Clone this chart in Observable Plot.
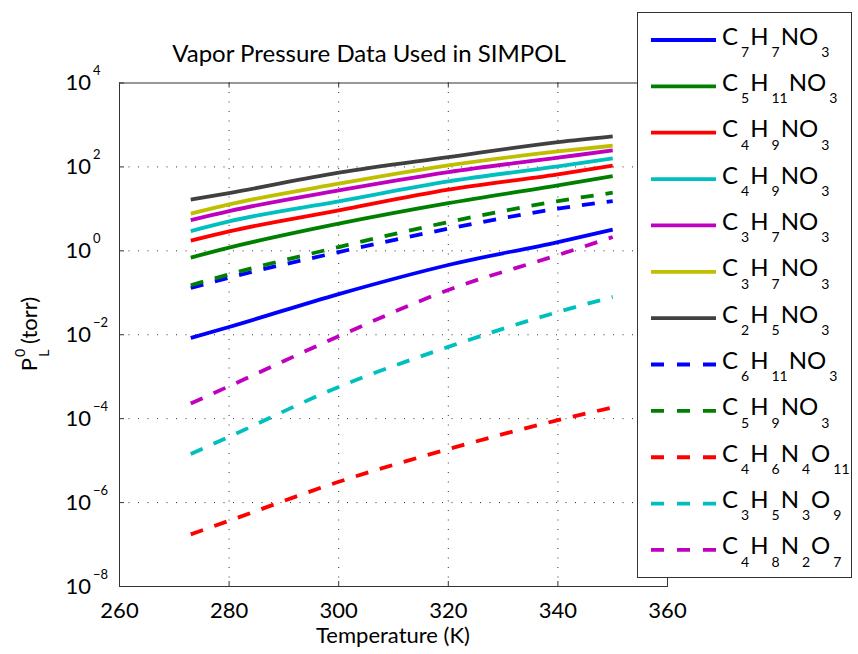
<!DOCTYPE html>
<html>
<head>
<meta charset="utf-8">
<script src="https://cdn.jsdelivr.net/npm/d3@7"></script>
<script src="https://cdn.jsdelivr.net/npm/@observablehq/plot@0.6"></script>
<style>
  body { margin: 0; background: #fff; }
  #wrap { position: relative; width: 858px; height: 654px; overflow: hidden; background: #fff; }
  #wrap svg { position: absolute; left: 0; top: 0; }
</style>
</head>
<body>
<div id="wrap"></div>
<script>
// ---------- data ----------
const temperature = [273, 280, 300, 320, 340, 350];               // K

const p_C7H7NO3      = [8.39e-3, 1.53e-2, 9.33e-2, 0.460, 1.62, 3.20];
const p_C5H11NO3     = [0.689, 1.19, 4.44, 13.7, 36.3, 60.4];
const p_C4H9NO3_a    = [1.75, 2.91, 9.20, 28.6, 66.2, 107];
const p_C4H9NO3_b    = [2.96, 5.04, 15.1, 45.2, 103, 159];
const p_C3H7NO3_a    = [5.41, 8.87, 27.5, 75.2, 166, 247];
const p_C3H7NO3_b    = [7.69, 12.8, 39.8, 109, 234, 320];
const p_C2H5NO3      = [16.6, 23.8, 72.8, 171, 389, 532];
const p_C6H11NO3     = [0.130, 0.229, 0.933, 3.37, 10.1, 15.3];
const p_C5H9NO3      = [0.151, 0.275, 1.23, 4.85, 15.3, 24.3];
const p_C4H6N4O11    = [1.75e-7, 3.69e-7, 3.13e-6, 1.88e-5, 9.20e-5, 1.85e-4];
const p_C3H5N3O9     = [1.43e-5, 3.69e-5, 5.71e-4, 5.13e-3, 3.49e-2, 7.96e-2];
const p_C4H8N2O7     = [2.30e-4, 5.94e-4, 9.20e-3, 0.117, 0.794, 2.13];

const seriesNames  = ["C_7H_7NO_3", "C_5H_11NO_3", "C_4H_9NO_3", "C_4H_9NO_3", "C_3H_7NO_3", "C_3H_7NO_3",
                      "C_2H_5NO_3", "C_6H_11NO_3", "C_5H_9NO_3", "C_4H_6N_4O_11", "C_3H_5N_3O_9", "C_4H_8N_2O_7"];
const seriesValues = [p_C7H7NO3, p_C5H11NO3, p_C4H9NO3_a, p_C4H9NO3_b, p_C3H7NO3_a, p_C3H7NO3_b,
                      p_C2H5NO3, p_C6H11NO3, p_C5H9NO3, p_C4H6N4O11, p_C3H5N3O9, p_C4H8N2O7];
const seriesColors = ["#0000ff", "#008000", "#ff0000", "#00bfbf", "#bf00bf", "#bfbf00",
                      "#404040", "#0000ff", "#008000", "#ff0000", "#00bfbf", "#bf00bf"];
const seriesDashed = [false, false, false, false, false, false, false, true, true, true, true, true];

const xTicks = [260, 280, 300, 320, 340, 360];
const yTicks = [1e-8, 1e-6, 1e-4, 1e-2, 1e0, 1e2, 1e4];

const titleText = "Vapor Pressure Data Used in SIMPOL";
const xLabelText = "Temperature (K)";

// ---------- chart ----------
const FONT = "Lato, 'Open Sans', sans-serif";
const W = 858, H = 654;
const mL = 119, mR = W - 667, mT = 82.5, mB = H - 586;
const innerW = W - mL - mR, innerH = H - mT - mB;
const DASH = "13,12";
const LW = 3.8;

const rows = seriesNames.map((name, i) => ({name, i}));
const lineMarks = rows.map(({name, i}) => Plot.line(
  temperature.map((t, j) => ({T: t, P: seriesValues[i][j]})),
  {x: "T", y: "P", stroke: seriesColors[i], strokeWidth: LW,
   strokeDasharray: seriesDashed[i] ? DASH : null, curve: "monotone-x", strokeLinecap: "butt"}
));

const chart = Plot.plot({
  width: W, height: H,
  marginLeft: mL, marginRight: mR, marginTop: mT, marginBottom: mB,
  style: {fontFamily: FONT, fontSize: "22px", color: "#000", background: "transparent", overflow: "visible"},
  x: {domain: [260, 360], label: null},
  y: {type: "log", domain: [1e-8, 1e4], label: null},
  marks: [
    Plot.gridX(xTicks.slice(1, -1), {stroke: "#333", strokeOpacity: 1, strokeDasharray: "1,8.5"}),
    Plot.gridY(yTicks.slice(1, -1), {stroke: "#333", strokeOpacity: 1, strokeDasharray: "1,8.5"}),
    Plot.tickX(xTicks, {x: d => d, stroke: "#333", insetTop: innerH - 5}),
    Plot.tickX(xTicks, {x: d => d, stroke: "#333", insetBottom: innerH - 5}),
    Plot.tickY(yTicks, {y: d => d, stroke: "#333", insetRight: innerW - 5}),
    Plot.axisX(xTicks, {tickSize: 0, tickPadding: 16, tickFormat: d => String(d), fontSize: 22}),
    Plot.axisY(yTicks, {tickSize: 0, tickPadding: 0, textAnchor: "start", dx: -54, fontSize: 22,
                        tickFormat: d => String(Math.round(Math.log10(d)))}),
    ...lineMarks,
    Plot.frame({stroke: "#333", strokeWidth: 1})
  ]
});
document.getElementById("wrap").appendChild(chart);

// y tick labels as 10 with superscript exponent
d3.select(chart).selectAll('g[aria-label="y-axis tick label"] text').each(function() {
  const e = +this.textContent;
  const t = d3.select(this);
  t.text(null);
  t.append("tspan").text("10");
  t.append("tspan").attr("dx", 2).attr("dy", -15).attr("font-size", 13)
    .text(e < 0 ? "\u2212" + Math.abs(e) : String(e));
});

// ---------- overlay: title, axis labels, legend ----------
const ov = d3.select("#wrap").append("svg")
  .attr("width", W).attr("height", H)
  .style("font-family", FONT);

ov.append("text").attr("x", 369).attr("y", 62).attr("text-anchor", "middle")
  .attr("font-size", 24).text(titleText);
ov.append("text").attr("x", 393).attr("y", 643).attr("text-anchor", "middle")
  .attr("font-size", 22).text(xLabelText);

// y label: P_L^0 (torr)
const yl = ov.append("text").attr("transform", "translate(37,334) rotate(-90)")
  .attr("text-anchor", "middle").attr("font-size", 22);
yl.append("tspan").text("P");
yl.append("tspan").attr("font-size", 14).attr("dx", 1).attr("dy", -12).text("0");
yl.append("tspan").attr("font-size", 14).attr("dx", -8).attr("dy", 24).text("L");
yl.append("tspan").attr("dy", -12).text("\u00a0(torr)");

// formula text with subscripts
function formula(sel, str, subSize, drop) {
  const parts = str.match(/_\d+|[^_]+/g);
  let cur = 0;
  parts.forEach(p => {
    if (p[0] === "_") {
      sel.append("tspan").attr("font-size", subSize).attr("dx", 3).attr("dy", drop - cur).text(p.slice(1));
      cur = drop;
    } else {
      sel.append("tspan").attr("dy", -cur).attr("dx", 1).text(p);
      cur = 0;
    }
  });
}

const lg = ov.append("g");
lg.append("rect").attr("x", 637.5).attr("y", 12.5).attr("width", 214).attr("height", 565)
  .attr("fill", "#fff").attr("stroke", "#333");
rows.forEach(({name, i}) => {
  const cy = 40 + 46.36 * i;
  lg.append("line").attr("x1", 651).attr("x2", 716).attr("y1", cy).attr("y2", cy)
    .attr("stroke", seriesColors[i]).attr("stroke-width", LW)
    .attr("stroke-dasharray", seriesDashed[i] ? "13,13" : null);
  const t = lg.append("text").attr("x", 721).attr("y", cy + 4.5).attr("font-size", 24);
  formula(t, name, 14, 12.3);
});
</script>
</body>
</html>
